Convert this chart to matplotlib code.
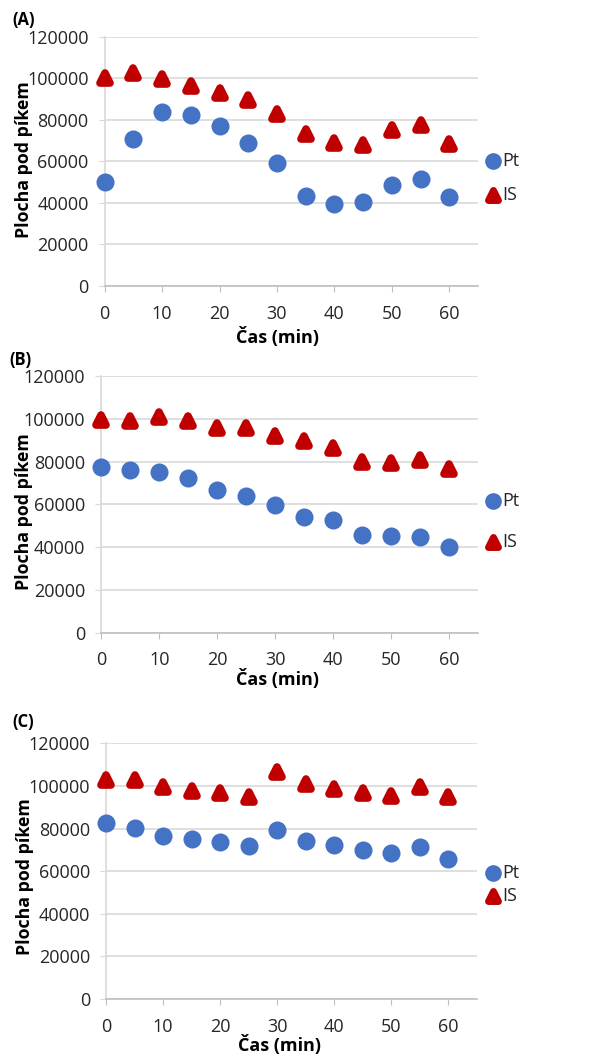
import matplotlib
matplotlib.use("Agg")
import matplotlib.pyplot as plt
from matplotlib.markers import MarkerStyle

# Časy odběru (min)
cas = [0, 5, 10, 15, 20, 25, 30, 35, 40, 45, 50, 55, 60]

# (A)
pt_a = [50000, 70600, 83900, 82300, 76800, 69000, 59200, 43300, 39500, 40400, 48600, 51500, 42800]
is_a = [99900, 102700, 99600, 96100, 92900, 89500, 82600, 73200, 68700, 67700, 75200, 77300, 68300]

# (B)
pt_b = [77600, 76100, 75300, 72500, 66900, 64100, 59800, 54200, 52500, 45700, 45000, 44900, 40200]
is_b = [99400, 98800, 101000, 99100, 95700, 95500, 91900, 89800, 86500, 79800, 79300, 80600, 76500]

# (C)
pt_c = [82800, 80100, 76500, 74900, 73800, 71700, 79300, 74300, 72300, 69800, 68500, 71500, 65900]
is_c = [102800, 102800, 99300, 97600, 96700, 94700, 106400, 101100, 98400, 96700, 95400, 99500, 95000]

yticks = [0, 20000, 40000, 60000, 80000, 100000, 120000]
xticks = [0, 10, 20, 30, 40, 50, 60]

panely = ["(A)", "(B)", "(C)"]
data = [(pt_a, is_a), (pt_b, is_b), (pt_c, is_c)]

modra = "#4472C4"
cervena = "#C00000"
seda = "#D9D9D9"

plt.rcParams["font.family"] = ["Open Sans", "DejaVu Sans"]

W, H = 616, 1061
fig = plt.figure(figsize=(W / 100, H / 100), dpi=100)

# pozice os v pixelech: left, right, top, bottom
pozice = [(104.7, 478, 36.7, 286), (101.3, 478, 376, 632.7), (106, 477, 743.3, 999)]
popisky_pos = [(12, 20), (9, 360), (12, 722)]
legenda_pos = [(160.7, 195), (500.7, 541.7), (873, 896)]
# středy popisků os v pixelech (x popisek osy y, y popisek osy y, y popisek osy x)
ylab_pos = [(24.5, 160), (24.5, 512), (25.5, 877)]
xlab_pos = [(278, 337), (278, 679), (279, 1045)]

trojuhelnik = MarkerStyle("^", joinstyle="round")

for i in range(3):
    l, r, t, b = pozice[i]
    ax = fig.add_axes([l / W, 1 - b / H, (r - l) / W, (b - t) / H])
    pt, ist = data[i]
    ax.plot(cas, pt, linestyle="none", marker="o", markersize=13, color=modra,
            markeredgewidth=0, zorder=3, clip_on=False, label="Pt")
    ax.plot(cas, ist, linestyle="none", marker=trojuhelnik, markersize=7, color=cervena,
            markeredgewidth=5.5, markeredgecolor=cervena, zorder=3, clip_on=False, label="IS")
    ax.set_xlim(0, 65)
    ax.set_ylim(0, 120000)
    ax.set_xticks(xticks)
    ax.set_yticks(yticks)
    ax.grid(axis="y", color=seda, linewidth=1.2)
    ax.set_axisbelow(True)
    for s in ["top", "right"]:
        ax.spines[s].set_visible(False)
    ax.spines["left"].set_color(seda)
    ax.spines["bottom"].set_color("#BFBFBF")
    ax.spines["left"].set_linewidth(1.2)
    ax.spines["bottom"].set_linewidth(1.2)
    ax.tick_params(axis="y", length=4.5, color=seda, labelsize=13, labelcolor="#262626", pad=7)
    ax.tick_params(axis="x", length=4.5, color="#BFBFBF", labelsize=13, labelcolor="#262626", pad=9)

    ax.set_xlabel("Čas (min)", fontsize=13, fontweight="bold", va="center")
    ax.xaxis.set_label_coords((xlab_pos[i][0] - l) / (r - l), -(xlab_pos[i][1] - b) / (b - t))
    ax.set_ylabel("Plocha pod píkem", fontsize=12.8, fontweight="bold", va="center")
    ax.yaxis.set_label_coords((ylab_pos[i][0] - l) / (r - l), (b - ylab_pos[i][1]) / (b - t))

    fig.text(popisky_pos[i][0] / W, 1 - popisky_pos[i][1] / H, panely[i],
             fontsize=12, fontweight="bold", va="center", ha="left")

    # legenda vpravo
    y1, y2 = legenda_pos[i]
    fig.add_artist(plt.Line2D([493 / W], [1 - y1 / H], marker="o", markersize=12,
                              color=modra, markeredgewidth=0, linestyle="none"))
    fig.text(502 / W, 1 - y1 / H, "Pt", fontsize=13, va="center", ha="left", color="#262626")
    fig.add_artist(plt.Line2D([493 / W], [1 - y2 / H], marker=trojuhelnik, markersize=6.5,
                              color=cervena, markeredgewidth=5, markeredgecolor=cervena,
                              linestyle="none"))
    fig.text(502 / W, 1 - y2 / H, "IS", fontsize=13, va="center", ha="left", color="#262626")

fig.savefig("out.png", dpi=100)
